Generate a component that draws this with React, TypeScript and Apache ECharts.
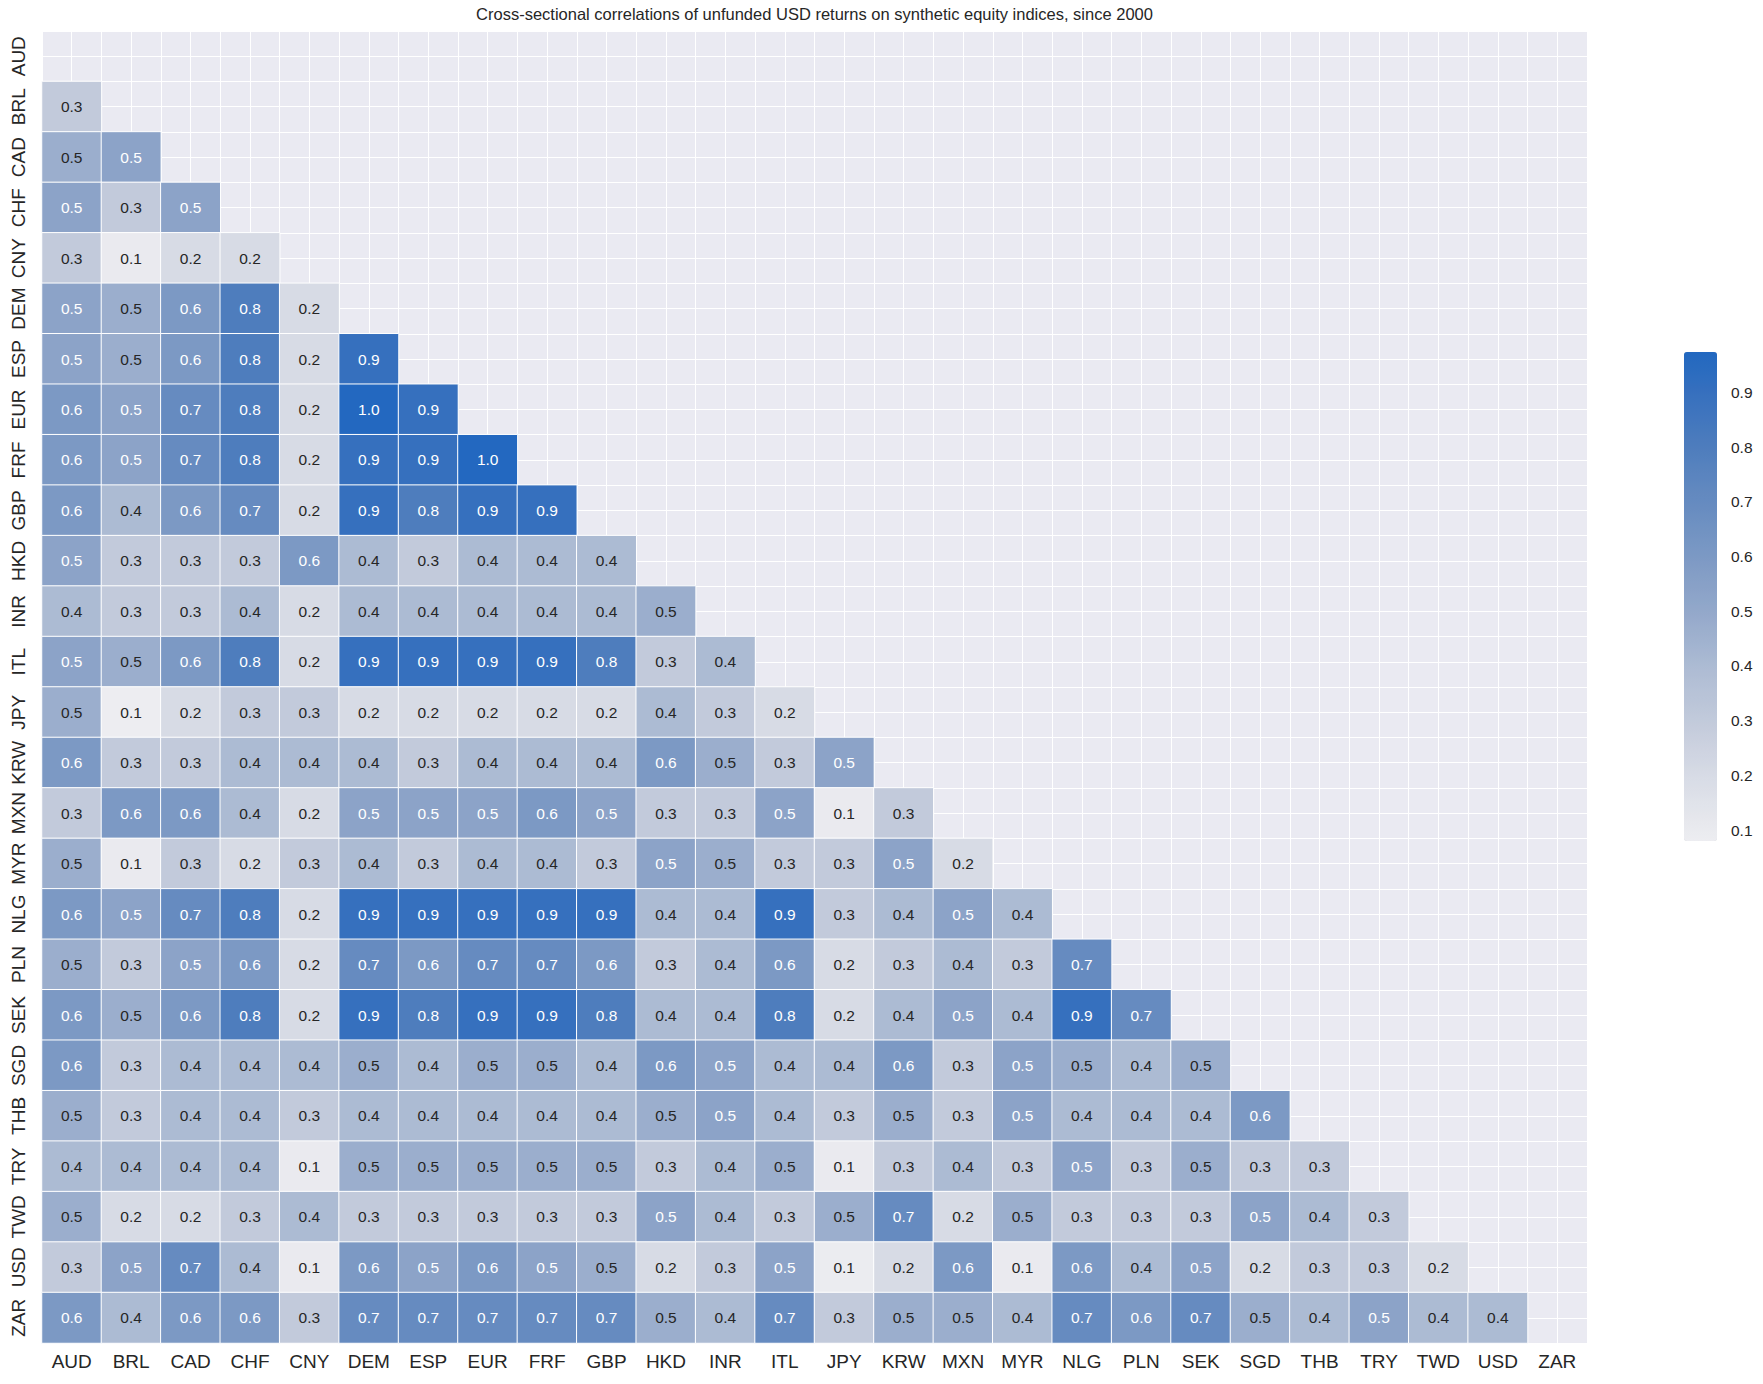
import React, { useEffect, useRef } from "react";
import * as echarts from "echarts";

// Categories (rows top-to-bottom, columns left-to-right)
const currencies = [
  "AUD", "BRL", "CAD", "CHF", "CNY", "DEM", "ESP", "EUR", "FRF", "GBP",
  "HKD", "INR", "ITL", "JPY", "KRW", "MXN", "MYR", "NLG", "PLN", "SEK",
  "SGD", "THB", "TRY", "TWD", "USD", "ZAR",
];

// Lower-triangle correlations, one array per row (row currency vs. AUD, BRL, ...)
const rowBRL = [0.3];
const rowCAD = [0.47, 0.53];
const rowCHF = [0.53, 0.3, 0.53];
const rowCNY = [0.3, 0.1, 0.2, 0.2];
const rowDEM = [0.53, 0.47, 0.6, 0.8, 0.2];
const rowESP = [0.53, 0.47, 0.6, 0.8, 0.2, 0.9];
const rowEUR = [0.6, 0.53, 0.7, 0.8, 0.2, 0.97, 0.9];
const rowFRF = [0.6, 0.53, 0.7, 0.8, 0.2, 0.9, 0.9, 0.97];
const rowGBP = [0.6, 0.4, 0.6, 0.7, 0.2, 0.9, 0.8, 0.9, 0.9];
const rowHKD = [0.53, 0.3, 0.3, 0.3, 0.6, 0.4, 0.3, 0.4, 0.4, 0.4];
const rowINR = [0.4, 0.3, 0.3, 0.4, 0.2, 0.4, 0.4, 0.4, 0.4, 0.4, 0.47];
const rowITL = [0.53, 0.47, 0.6, 0.8, 0.2, 0.9, 0.9, 0.9, 0.9, 0.8, 0.3, 0.4];
const rowJPY = [0.47, 0.08, 0.2, 0.3, 0.3, 0.2, 0.2, 0.2, 0.2, 0.2, 0.4, 0.3, 0.2];
const rowKRW = [0.6, 0.3, 0.3, 0.4, 0.4, 0.4, 0.3, 0.4, 0.4, 0.4, 0.6, 0.47, 0.3, 0.53];
const rowMXN = [0.3, 0.6, 0.6, 0.4, 0.2, 0.53, 0.53, 0.53, 0.6, 0.53, 0.3, 0.3, 0.53, 0.1, 0.3];
const rowMYR = [0.47, 0.1, 0.3, 0.2, 0.3, 0.4, 0.3, 0.4, 0.4, 0.3, 0.53, 0.47, 0.3, 0.3, 0.53, 0.2];
const rowNLG = [0.6, 0.53, 0.7, 0.8, 0.2, 0.9, 0.9, 0.9, 0.9, 0.9, 0.4, 0.4, 0.9, 0.3, 0.4, 0.53, 0.4];
const rowPLN = [0.47, 0.3, 0.53, 0.6, 0.2, 0.7, 0.6, 0.7, 0.7, 0.6, 0.3, 0.4, 0.6, 0.2, 0.3, 0.4, 0.3, 0.7];
const rowSEK = [0.6, 0.47, 0.6, 0.8, 0.2, 0.9, 0.8, 0.9, 0.9, 0.8, 0.4, 0.4, 0.8, 0.2, 0.4, 0.53, 0.4, 0.9, 0.7];
const rowSGD = [0.6, 0.3, 0.4, 0.4, 0.4, 0.47, 0.4, 0.47, 0.47, 0.4, 0.6, 0.53, 0.4, 0.4, 0.6, 0.3, 0.53, 0.47, 0.4, 0.47];
const rowTHB = [0.47, 0.3, 0.4, 0.4, 0.3, 0.4, 0.4, 0.4, 0.4, 0.4, 0.47, 0.53, 0.4, 0.3, 0.47, 0.3, 0.53, 0.4, 0.4, 0.4, 0.6];
const rowTRY = [0.4, 0.4, 0.4, 0.4, 0.1, 0.47, 0.47, 0.47, 0.47, 0.47, 0.3, 0.4, 0.47, 0.1, 0.3, 0.4, 0.3, 0.53, 0.3, 0.47, 0.3, 0.3];
const rowTWD = [0.47, 0.2, 0.2, 0.3, 0.4, 0.3, 0.3, 0.3, 0.3, 0.3, 0.53, 0.4, 0.3, 0.47, 0.7, 0.2, 0.47, 0.3, 0.3, 0.3, 0.53, 0.4, 0.3];
const rowUSD = [0.3, 0.53, 0.7, 0.4, 0.1, 0.6, 0.53, 0.6, 0.53, 0.47, 0.2, 0.3, 0.53, 0.09, 0.2, 0.6, 0.1, 0.6, 0.4, 0.53, 0.2, 0.3, 0.3, 0.2];
const rowZAR = [0.6, 0.4, 0.6, 0.6, 0.3, 0.7, 0.7, 0.7, 0.7, 0.7, 0.47, 0.4, 0.7, 0.3, 0.47, 0.47, 0.4, 0.7, 0.6, 0.7, 0.47, 0.4, 0.53, 0.4, 0.4];

const lowerRows = [
  rowBRL, rowCAD, rowCHF, rowCNY, rowDEM, rowESP, rowEUR, rowFRF, rowGBP, rowHKD,
  rowINR, rowITL, rowJPY, rowKRW, rowMXN, rowMYR, rowNLG, rowPLN, rowSEK, rowSGD,
  rowTHB, rowTRY, rowTWD, rowUSD, rowZAR,
];

// Colour bar range and tick labels
const scaleMin = 0.08;
const scaleMax = 0.974;
const colorbarTicks = [0.1, 0.2, 0.3, 0.4, 0.5, 0.6, 0.7, 0.8, 0.9];

const chartTitle =
  "Cross-sectional correlations of unfunded USD returns on synthetic equity indices, since 2000";

// Colour ramp anchors (value -> rgb)
const rampAnchors: [number, number[]][] = [
  [0.08, [237, 237, 241]],
  [0.2, [215, 219, 229]],
  [0.3, [194, 202, 219]],
  [0.4, [172, 187, 211]],
  [0.5, [147, 168, 202]],
  [0.6, [124, 153, 196]],
  [0.7, [102, 139, 192]],
  [0.8, [78, 125, 189]],
  [0.9, [54, 112, 190]],
  [0.974, [34, 104, 192]],
];

function rampColor(v: number): string {
  let a = rampAnchors[0];
  let b = rampAnchors[rampAnchors.length - 1];
  for (let k = 0; k < rampAnchors.length - 1; k++) {
    if (v >= rampAnchors[k][0] && v <= rampAnchors[k + 1][0]) {
      a = rampAnchors[k];
      b = rampAnchors[k + 1];
      break;
    }
  }
  const t = b[0] === a[0] ? 0 : (v - a[0]) / (b[0] - a[0]);
  const c = a[1].map((x, i) => Math.round(x + (b[1][i] - x) * t));
  return `rgb(${c[0]},${c[1]},${c[2]})`;
}

function buildRamp(n: number): string[] {
  const out: string[] = [];
  for (let k = 0; k < n; k++) {
    out.push(rampColor(scaleMin + ((scaleMax - scaleMin) * k) / (n - 1)));
  }
  return out;
}

const FONT = "'Liberation Sans', Arial, Helvetica, sans-serif";
const TEXT_DARK = "#262626";

export default function App() {
  const ref = useRef<HTMLDivElement>(null);

  useEffect(() => {
    document.body.style.margin = "0";
    const chart = echarts.init(ref.current as HTMLDivElement, null, { renderer: "svg" });

    const data: any[] = [];
    lowerRows.forEach((row, k) => {
      const i = k + 1;
      row.forEach((v, j) => {
        data.push({
          value: [j, i, v],
          label: { color: v > 0.5 ? "#ffffff" : TEXT_DARK },
        });
      });
    });

    chart.setOption({
      animation: false,
      backgroundColor: "#ffffff",
      textStyle: { fontFamily: FONT },
      title: {
        text: chartTitle,
        left: 814.5,
        top: 5,
        textAlign: "center",
        padding: 0,
        textStyle: { fontSize: 16.5, fontWeight: "normal", color: TEXT_DARK, fontFamily: FONT },
      },
      grid: [
        {
          left: 42,
          top: 31,
          width: 1545,
          height: 1312,
          show: true,
          backgroundColor: "#EAEAF2",
          borderWidth: 0,
        },
        { left: 1684, top: 352, width: 33, height: 489, show: false },
      ],
      xAxis: [
        {
          type: "category",
          gridIndex: 0,
          data: currencies,
          position: "bottom",
          axisLine: { show: false },
          axisTick: { show: false },
          splitLine: { show: false },
          axisLabel: { fontSize: 19, color: TEXT_DARK, margin: 9, interval: 0, fontFamily: FONT },
        },
        {
          type: "value",
          gridIndex: 0,
          min: -0.5,
          max: 25.5,
          interval: 0.5,
          position: "top",
          axisLine: { show: false },
          axisTick: { show: false },
          axisLabel: { show: false },
          splitLine: { show: true, lineStyle: { color: "#ffffff", width: 1 } },
        },
        { type: "value", gridIndex: 1, show: false, min: 0, max: 1 },
      ],
      yAxis: [
        {
          type: "category",
          gridIndex: 0,
          data: currencies,
          inverse: true,
          axisLine: { show: false },
          axisTick: { show: false },
          splitLine: { show: false },
          axisLabel: { fontSize: 19, color: TEXT_DARK, rotate: 90, margin: 14, interval: 0, fontFamily: FONT },
        },
        {
          type: "value",
          gridIndex: 0,
          min: -0.5,
          max: 25.5,
          interval: 0.5,
          position: "right",
          axisLine: { show: false },
          axisTick: { show: false },
          axisLabel: { show: false },
          splitLine: { show: true, lineStyle: { color: "#ffffff", width: 1 } },
        },
        {
          type: "value",
          gridIndex: 1,
          min: scaleMin,
          max: scaleMax,
          position: "right",
          axisLine: { show: false },
          splitLine: { show: false },
          axisTick: {
            show: true,
            length: 7,
            customValues: colorbarTicks,
            lineStyle: { color: TEXT_DARK, width: 1.3 },
          },
          axisLabel: {
            show: true,
            customValues: colorbarTicks,
            formatter: (v: number) => v.toFixed(1),
            fontSize: 15.5,
            color: TEXT_DARK,
            margin: 14,
            fontFamily: FONT,
          },
        },
      ],
      visualMap: {
        type: "continuous",
        min: scaleMin,
        max: scaleMax,
        calculable: false,
        seriesIndex: 0,
        dimension: 2,
        orient: "vertical",
        left: 1684,
        top: 352,
        itemWidth: 33,
        itemHeight: 489,
        padding: 0,
        hoverLink: false,
        inRange: { color: buildRamp(40) },
      },
      series: [
        {
          type: "heatmap",
          xAxisIndex: 0,
          yAxisIndex: 0,
          data,
          itemStyle: { borderColor: "#ffffff", borderWidth: 1 },
          label: {
            show: true,
            fontSize: 15.5,
            fontFamily: FONT,
            formatter: (p: any) => Number(p.value[2]).toFixed(1),
          },
          emphasis: { disabled: true },
        },
      ],
    });

    return () => chart.dispose();
  }, []);

  return (
    <div
      ref={ref}
      style={{ position: "absolute", left: 0, top: 0, width: 1763, height: 1384 }}
    />
  );
}
